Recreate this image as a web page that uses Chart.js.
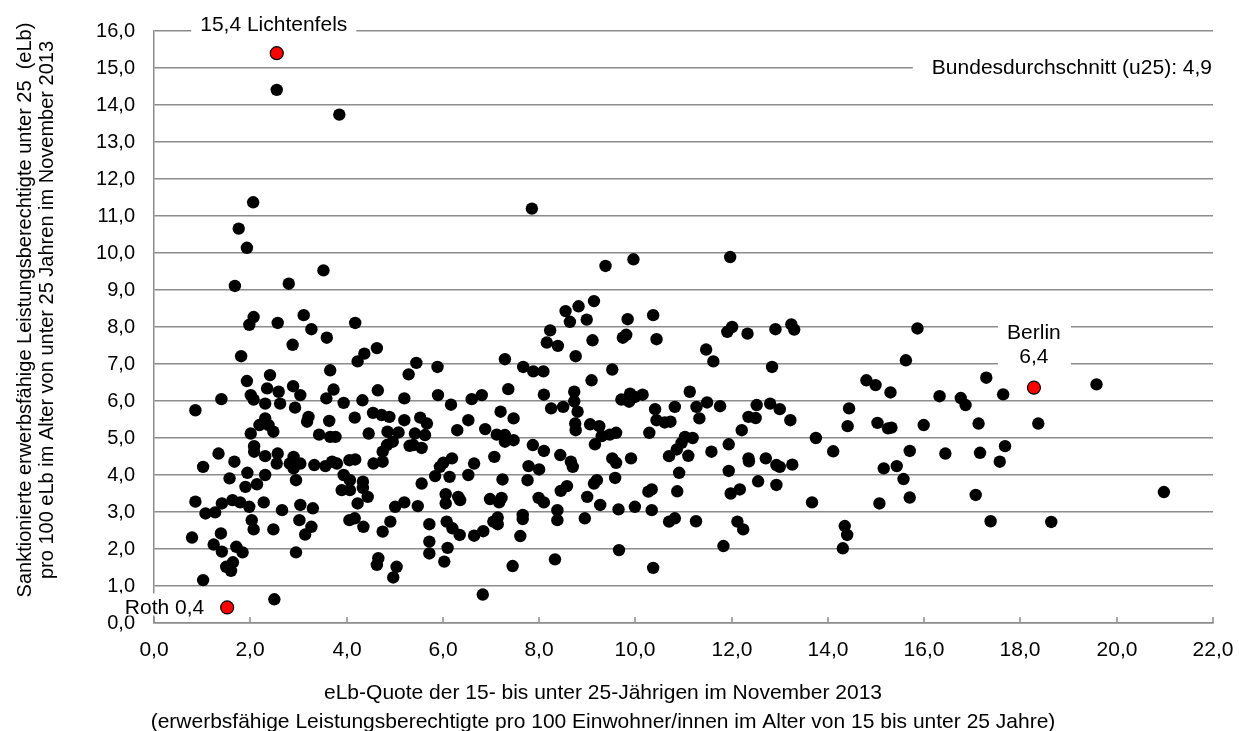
<!DOCTYPE html>
<html lang="de">
<head>
<meta charset="utf-8">
<title>Sanktionen u25 – Streudiagramm</title>
<script src="https://cdn.jsdelivr.net/npm/chart.js@4.4.1/dist/chart.umd.min.js"></script>
<style>
  html, body { margin: 0; padding: 0; background: #ffffff; }
  #streuChart { display: block; }
</style>
</head>
<body>
<canvas id="streuChart" width="1239" height="731"></canvas>
<script>
// eLb-Quote der 15- bis unter 25-Jährigen (x) je Kreis
const eLbQuote = [
    2.55, 3.85, 2.06, 1.76, 1.93, 3.52, 1.68, 2.80,
    2.07, 1.98, 2.57, 3.11, 3.27, 3.59, 4.18, 2.88, 1.81, 4.63,
    4.37, 4.23, 3.66, 2.41, 1.93, 2.35, 2.59, 2.89, 3.04, 2.01,
    2.07, 2.31, 2.62, 2.93, 1.40, 0.86, 3.58, 3.73, 3.94, 4.33,
    4.65, 5.29, 5.20, 3.21, 3.18, 3.64, 4.17, 4.55, 4.73, 4.89,
    5.20, 2.31, 2.19, 2.38, 2.48, 2.01, 3.43, 3.66, 3.77, 4.46,
    4.85, 5.08, 4.96, 4.84, 4.75, 5.31, 2.08, 2.08, 1.34, 1.02,
    1.67, 2.31, 2.57, 2.55, 2.90, 2.82, 2.93, 3.04, 2.90, 3.33,
    3.56, 3.70, 3.80, 4.06, 4.18, 4.56, 4.75, 1.94, 1.57, 2.31,
    2.14, 1.90, 2.95, 3.94, 4.07, 4.34, 3.90, 4.07, 4.34, 4.44,
    0.86, 1.07, 1.27, 1.41, 1.63, 1.79, 1.98, 2.28, 2.66, 3.04,
    3.30, 4.23, 5.01, 5.20, 2.03, 2.07, 2.48, 3.02, 3.27, 3.14,
    4.06, 4.17, 4.35, 4.91, 4.75, 0.79, 1.39, 1.24, 1.41, 1.71,
    1.84, 2.95, 1.50, 1.64, 1.60, 4.66, 4.63, 5.04, 4.97, 1.02,
    2.50,
    5.45, 5.89, 5.90, 6.17, 6.60, 6.81, 5.53, 5.67, 5.42, 5.63,
    5.39, 5.56, 6.53, 6.30, 6.88, 7.20, 7.47, 7.12, 7.29, 7.29,
    7.47, 7.36, 7.29, 7.67, 7.88, 8.09, 8.10, 8.25, 8.50, 8.73,
    8.73, 8.80, 8.75, 8.76, 8.23, 8.16, 8.39, 8.55, 8.64, 8.82,
    8.99, 9.14, 9.11, 8.76, 9.09, 9.52, 9.84, 9.74, 9.81, 10.37,
    10.44, 9.71, 9.89, 9.87, 9.99, 10.15, 10.41, 10.44, 9.06, 9.25,
    9.30, 9.47, 9.60, 9.16, 10.29, 6.01, 6.19, 5.94, 6.14, 5.84,
    5.56, 6.65, 6.53, 7.07, 7.24, 7.87, 8.10, 7.78, 8.00, 7.76,
    8.44, 8.66, 8.70, 9.52, 9.60, 9.91, 9.58, 9.20, 9.14, 8.58,
    8.45, 10.34, 10.27, 9.00, 9.27, 5.48, 6.06, 6.06, 6.32, 6.36,
    6.98, 7.22, 7.17, 7.99, 8.10, 8.38, 8.38, 7.66, 7.66, 8.95,
    9.65, 9.99, 10.34, 5.72, 6.08, 6.20, 6.35, 6.65, 6.84, 7.05,
    7.14, 7.14, 7.61, 5.72, 5.72, 6.10, 6.03, 7.45, 8.33, 9.66,
    10.37, 6.83,
    7.85, 9.38, 9.96, 11.97,
    11.91, 12.01, 12.33, 12.91, 13.24, 13.30, 11.47, 11.62, 12.84, 15.62,
    14.80, 14.99, 15.30, 11.13, 10.82, 11.27, 11.49, 11.76, 11.33, 10.61,
    10.73, 12.52, 12.80, 13.00, 12.35, 12.50, 13.22, 12.21, 14.44, 14.41,
    15.03, 15.25, 15.32, 13.75, 14.11, 11.03, 11.19, 10.96, 10.86, 10.70,
    11.10, 11.58, 11.94, 10.91, 11.94, 12.35, 12.36, 12.71, 12.93, 13.00,
    13.26, 12.55, 12.93, 10.87, 11.98, 12.17, 13.67, 15.07, 15.16, 15.43,
    15.57, 15.70, 15.70, 10.70, 10.82, 11.26, 12.12, 12.24, 11.83, 14.35,
    14.40, 14.31,
    15.86, 17.29, 16.32, 16.76, 16.86, 17.64, 19.58, 15.99, 17.13, 18.37,
    16.44, 17.16, 17.68, 17.57, 17.07, 17.38, 18.64, 20.98
];

// Sanktionierte eLb u25 pro 100 eLb u25 (y) je Kreis, gleiche Reihenfolge
const sanktionsQuote = [
    14.41, 13.74, 11.37, 10.66, 10.14, 9.53, 9.11, 9.17,
    8.27, 8.06, 8.11, 8.32, 7.94, 7.71, 8.11, 7.52, 7.21, 7.43,
    7.28, 7.07, 6.83, 6.70, 6.54, 6.34, 6.25, 6.40, 6.16, 6.16,
    6.04, 5.93, 5.93, 5.82, 6.05, 5.75, 6.07, 6.31, 5.95, 6.02,
    6.29, 6.72, 6.07, 5.57, 5.44, 5.46, 5.55, 5.68, 5.62, 5.57,
    5.48, 5.53, 5.35, 5.35, 5.17, 5.12, 5.09, 5.03, 5.03, 5.12,
    5.17, 5.15, 4.90, 4.81, 4.63, 4.79, 4.78, 4.63, 4.58, 4.22,
    4.36, 4.51, 4.58, 4.31, 4.49, 4.31, 4.31, 4.31, 4.18, 4.27,
    4.24, 4.36, 4.31, 4.40, 4.42, 4.31, 4.36, 4.06, 3.91, 4.00,
    3.75, 3.68, 3.86, 4.00, 3.86, 3.82, 3.59, 3.59, 3.65, 3.41,
    3.28, 2.96, 2.99, 3.23, 3.32, 3.26, 3.14, 3.26, 3.05, 3.19,
    3.10, 3.23, 3.14, 3.26, 2.78, 2.53, 2.53, 2.78, 2.60, 2.39,
    2.78, 2.83, 2.60, 2.74, 2.47, 2.31, 2.42, 2.12, 1.93, 2.06,
    1.91, 1.91, 1.52, 1.64, 1.41, 1.75, 1.57, 1.52, 1.23, 1.16,
    0.64,
    7.03, 6.92, 6.16, 5.90, 6.05, 6.16, 5.55, 5.39, 5.12, 5.08,
    4.81, 4.73, 5.48, 5.21, 5.24, 5.71, 5.53, 5.09, 5.08, 4.90,
    4.94, 6.32, 7.13, 6.92, 6.80, 6.80, 6.17, 5.80, 5.84, 6.25,
    5.99, 5.71, 5.39, 5.21, 7.91, 7.58, 7.49, 8.43, 8.14, 8.56,
    8.20, 8.70, 7.64, 7.21, 6.56, 6.85, 8.21, 7.71, 7.79, 8.32,
    7.67, 6.04, 6.20, 5.98, 6.11, 6.17, 5.78, 5.48, 5.37, 5.32,
    5.05, 5.09, 5.14, 4.83, 5.14, 4.33, 4.45, 4.22, 3.95, 3.97,
    3.77, 4.31, 4.00, 4.49, 3.88, 4.81, 4.65, 4.24, 4.15, 3.86,
    4.54, 4.36, 4.22, 4.45, 4.33, 4.45, 3.92, 3.86, 3.77, 3.70,
    3.57, 3.61, 3.55, 3.41, 3.19, 3.16, 3.48, 3.23, 3.41, 3.32,
    3.35, 3.38, 3.26, 3.38, 3.26, 3.05, 2.78, 2.92, 2.81, 2.83,
    3.07, 3.14, 3.05, 2.67, 2.74, 2.56, 2.38, 2.36, 2.48, 2.74,
    2.85, 2.67, 2.35, 2.20, 1.88, 2.03, 1.66, 1.54, 1.72, 1.97,
    1.49, 0.77,
    11.20, 9.65, 9.83, 9.89,
    7.87, 8.00, 7.82, 7.94, 8.07, 7.93, 7.39, 7.07, 6.92, 7.10,
    6.56, 6.43, 6.23, 6.25, 5.84, 5.84, 5.96, 5.86, 5.53, 5.42,
    5.44, 5.89, 5.93, 5.78, 5.57, 5.54, 5.48, 5.21, 5.80, 5.32,
    5.41, 5.26, 5.28, 5.00, 4.64, 5.03, 5.00, 4.87, 4.69, 4.51,
    4.52, 4.63, 4.83, 4.06, 4.11, 4.45, 4.37, 4.45, 4.27, 4.22,
    4.28, 3.83, 3.73, 3.56, 3.50, 3.61, 3.26, 3.23, 4.18, 4.24,
    3.89, 4.65, 3.39, 2.74, 2.83, 2.75, 2.74, 2.53, 2.08, 2.62,
    2.38, 2.02,
    7.96, 6.63, 6.13, 6.08, 5.89, 6.18, 6.45, 5.35, 5.39, 5.39,
    4.58, 4.60, 4.78, 4.36, 3.46, 2.75, 2.73, 3.54
];

// Hervorgehobene Kreise (rot)
const markiertNamen = ['Lichtenfels', 'Berlin', 'Roth'];
const markiertX = [2.55, 18.28, 1.52];
const markiertY = [15.40, 6.36, 0.42];
const markiertText = ['15,4 Lichtenfels', 'Berlin\n6,4', 'Roth 0,4'];

// Achsenbeschriftungen
const xTickWerte = [0, 2, 4, 6, 8, 10, 12, 14, 16, 18, 20, 22];
const yTickWerte = [0, 1, 2, 3, 4, 5, 6, 7, 8, 9, 10, 11, 12, 13, 14, 15, 16];
const bundesText = 'Bundesdurchschnitt (u25): 4,9';
const yTitel = ['Sanktionierte erwerbsfähige Leistungsberechtigte unter 25  (eLb)',
                'pro 100 eLb im Alter von unter 25 Jahren im November 2013'];
const xTitel = ['eLb-Quote der 15- bis unter 25-Jährigen im November 2013',
                '(erwerbsfähige Leistungsberechtigte pro 100 Einwohner/innen im Alter von 15 bis unter 25 Jahre)'];

const SCHRIFT = '"Liberation Sans", Arial, sans-serif';
const GRAU = '#8c8c8c';

if (eLbQuote.length !== sanktionsQuote.length) {
    console.log('Achtung: Datenreihen unterschiedlich lang', eLbQuote.length, sanktionsQuote.length);
}

// Zahlen mit Dezimalkomma
const deutsch = v => Number(v).toFixed(1).replace('.', ',');

// Text mit weißem Kasten dahinter (verdeckt Gitterlinien)
function kastenText(ctx, text, x, y, align, padX) {
    const w = ctx.measureText(text).width;
    let left = x - w / 2;
    if (align === 'right') left = x - w;
    if (align === 'left') left = x;
    ctx.fillStyle = '#ffffff';
    ctx.fillRect(left - padX, y - 12, w + 2 * padX, 24);
    ctx.fillStyle = '#000000';
    ctx.textAlign = align;
    ctx.fillText(text, x, y);
}

// Plugin: x-Achse – Teilstriche nach innen und Beschriftung unter der Achse
const xAchsePlugin = {
    id: 'xAchse',
    beforeDatasetsDraw(chart) {
        const ctx = chart.ctx;
        const xs = chart.scales.x;
        const unten = chart.chartArea.bottom;
        ctx.save();
        ctx.strokeStyle = GRAU;
        ctx.lineWidth = 1.5;
        ctx.font = '21px ' + SCHRIFT;
        ctx.fillStyle = '#000000';
        ctx.textAlign = 'center';
        ctx.textBaseline = 'middle';
        xs.ticks.forEach(t => {
            const px = Math.round(xs.getPixelForValue(t.value));
            ctx.beginPath();
            ctx.moveTo(px, unten);
            ctx.lineTo(px, unten - 6);
            ctx.stroke();
            ctx.fillText(deutsch(t.value), px, unten + 27);
        });
        ctx.restore();
    }
};

// Plugin: Beschriftungen der roten Punkte, Bundesdurchschnitt, Achsentitel
const beschriftungPlugin = {
    id: 'beschriftung',
    afterDraw(chart) {
        const ctx = chart.ctx;
        const xs = chart.scales.x;
        const ys = chart.scales.y;
        const area = chart.chartArea;
        ctx.save();
        ctx.font = '21px ' + SCHRIFT;
        ctx.textBaseline = 'middle';

        // Lichtenfels
        const lx = xs.getPixelForValue(markiertX[0]);
        kastenText(ctx, markiertText[0], lx - 3, area.top - 6, 'center', 9);

        // Berlin (zweizeilig)
        const bx = xs.getPixelForValue(markiertX[1]);
        const by = ys.getPixelForValue(markiertY[1]);
        const zeilen = markiertText[1].split('\n');
        ctx.fillStyle = '#ffffff';
        ctx.fillRect(bx - 36, by - 68, 73, 52);
        ctx.fillStyle = '#000000';
        ctx.textAlign = 'center';
        ctx.fillText(zeilen[0], bx, by - 54);
        ctx.fillText(zeilen[1], bx, by - 30);

        // Roth
        const rx = xs.getPixelForValue(markiertX[2]);
        const ry = ys.getPixelForValue(markiertY[2]);
        ctx.fillStyle = '#ffffff';
        ctx.fillRect(rx - 108, ry - 14, 96, 22);
        ctx.fillStyle = '#000000';
        ctx.textAlign = 'right';
        ctx.fillText(markiertText[2], rx - 23, ry + 1);

        // Bundesdurchschnitt auf der 15er-Linie
        kastenText(ctx, bundesText, area.right - 1, ys.getPixelForValue(15), 'right', 19);

        // y-Achsentitel (gedreht)
        ctx.font = '20px ' + SCHRIFT;
        ctx.textAlign = 'center';
        ctx.fillStyle = '#000000';
        yTitel.forEach((t, i) => {
            ctx.save();
            ctx.translate(25 + i * 22, 310);
            ctx.rotate(-Math.PI / 2);
            ctx.fillText(t, 0, 0);
            ctx.restore();
        });

        // x-Achsentitel
        ctx.font = '21px ' + SCHRIFT;
        xTitel.forEach((t, i) => {
            ctx.fillText(t, 603, 693 + i * 29);
        });
        ctx.restore();
    }
};

// Punkte zusammenbauen
const punkte = eLbQuote.map((x, i) => ({ x: x, y: sanktionsQuote[i] }));
const rotePunkte = markiertX.map((x, i) => ({ x: x, y: markiertY[i], name: markiertNamen[i] }));

const ctx = document.getElementById('streuChart').getContext('2d');
new Chart(ctx, {
    type: 'scatter',
    data: {
        datasets: [{
            label: 'Markierte Kreise',
            data: rotePunkte,
            order: 0,
            pointRadius: 6.5,
            backgroundColor: '#ff0000',
            borderColor: '#000000',
            borderWidth: 1.2
        }, {
            label: 'Kreise',
            data: punkte,
            order: 1,
            pointRadius: 6.2,
            backgroundColor: '#000000',
            borderWidth: 0
        }]
    },
    options: {
        responsive: false,
        animation: false,
        events: [],
        layout: { padding: { top: 30, right: 26, left: 0, bottom: 0 } },
        plugins: {
            legend: { display: false },
            tooltip: { enabled: false }
        },
        scales: {
            x: {
                type: 'linear',
                min: 0,
                max: 22,
                afterBuildTicks: s => { s.ticks = xTickWerte.map(v => ({ value: v })); },
                afterFit: s => {
                    s.height = 108;
                    s.paddingLeft = 0;
                    s.paddingRight = 0;
                },
                grid: { display: false, drawTicks: false },
                border: { display: true, color: GRAU, width: 1.5 },
                // Beschriftung zeichnet das xAchse-Plugin
                ticks: { display: false, autoSkip: false }
            },
            y: {
                type: 'linear',
                min: 0,
                max: 16,
                afterBuildTicks: s => { s.ticks = yTickWerte.map(v => ({ value: v })); },
                afterFit: s => { s.width = 154; },
                grid: { color: GRAU, lineWidth: 1.5, drawTicks: false },
                border: { display: true, color: GRAU, width: 1.5 },
                ticks: {
                    padding: 19,
                    color: '#000000',
                    font: { family: SCHRIFT, size: 20 },
                    autoSkip: false,
                    callback: v => deutsch(v)
                }
            }
        }
    },
    plugins: [xAchsePlugin, beschriftungPlugin]
});
</script>
</body>
</html>
